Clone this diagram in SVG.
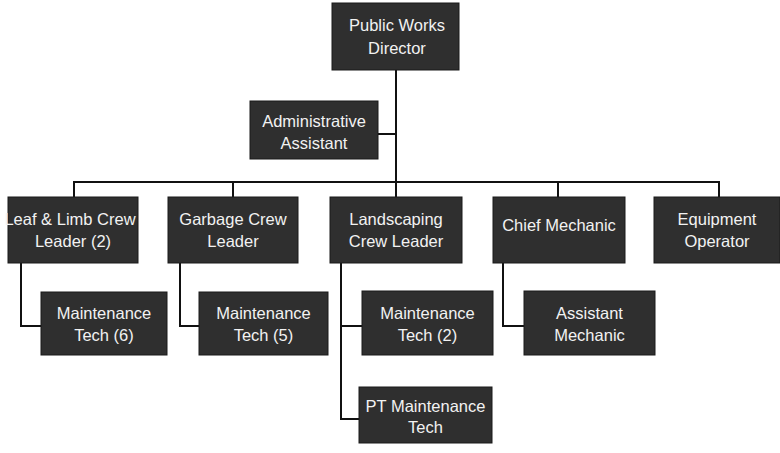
<svg xmlns="http://www.w3.org/2000/svg" width="780" height="453" viewBox="0 0 780 453">
<style>
.box{fill:#2f2f2f;stroke:#1a1a1a;stroke-width:1}
.t{font-family:"Liberation Sans",Arial,sans-serif;font-size:16.5px;fill:#f2f2f2;text-anchor:middle}
.c{fill:none;stroke:#111;stroke-width:2}
</style>
<rect width="780" height="453" fill="#fff"/>
<g id="connectors">
<path class="c" d="M396 70V182"/>
<path class="c" d="M378 134H396"/>
<path class="c" d="M74 197V182H719V197"/>
<path class="c" d="M233 182V197M396 182V197M558 182V197"/>
<path class="c" d="M21 263V326H41"/>
<path class="c" d="M180 263V326H199"/>
<path class="c" d="M341 263V419H359M341 326H362"/>
<path class="c" d="M503 263V326H524"/>
</g>
<g id="director"><rect class="box" x="332" y="3" width="127" height="67"/><text class="t" x="397" y="31">Public Works</text><text class="t" x="397" y="54">Director</text></g>
<g id="admin"><rect class="box" x="250" y="101" width="128" height="58"/><text class="t" x="314" y="127">Administrative</text><text class="t" x="314" y="149">Assistant</text></g>
<g id="leaf"><rect class="box" x="8" y="197" width="130" height="66"/><text class="t" x="70" y="225">Leaf &amp; Limb Crew</text><text class="t" x="73" y="247">Leader (2)</text></g>
<g id="garbage"><rect class="box" x="168" y="197" width="130" height="66"/><text class="t" x="233" y="225">Garbage Crew</text><text class="t" x="233" y="247">Leader</text></g>
<g id="landscaping"><rect class="box" x="330" y="197" width="132" height="66"/><text class="t" x="396" y="225">Landscaping</text><text class="t" x="396" y="247">Crew Leader</text></g>
<g id="chief"><rect class="box" x="493" y="197" width="132" height="66"/><text class="t" x="559" y="231">Chief Mechanic</text></g>
<g id="equipment"><rect class="box" x="654" y="197" width="126" height="66"/><text class="t" x="717" y="225">Equipment</text><text class="t" x="717" y="247">Operator</text></g>
<g id="mt6"><rect class="box" x="41" y="292" width="126" height="63"/><text class="t" x="104" y="319">Maintenance</text><text class="t" x="104" y="341">Tech (6)</text></g>
<g id="mt5"><rect class="box" x="199" y="292" width="129" height="63"/><text class="t" x="263.5" y="319">Maintenance</text><text class="t" x="263.5" y="341">Tech (5)</text></g>
<g id="mt2"><rect class="box" x="362" y="291" width="131" height="64"/><text class="t" x="427.5" y="319">Maintenance</text><text class="t" x="427.5" y="341">Tech (2)</text></g>
<g id="asst"><rect class="box" x="524" y="291" width="131" height="64"/><text class="t" x="589.5" y="319">Assistant</text><text class="t" x="589.5" y="341">Mechanic</text></g>
<g id="pt"><rect class="box" x="359" y="387" width="133" height="56"/><text class="t" x="425.5" y="412">PT Maintenance</text><text class="t" x="425.5" y="433">Tech</text></g>
</svg>
